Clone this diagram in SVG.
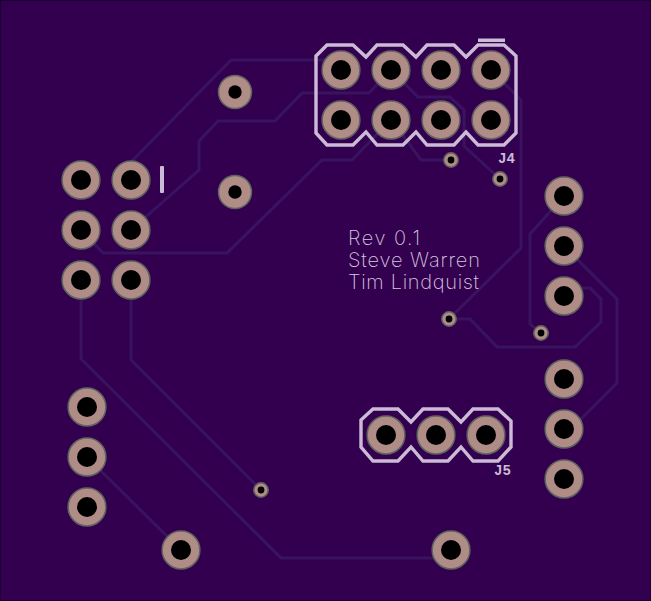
<svg xmlns="http://www.w3.org/2000/svg" width="651" height="601" viewBox="0 0 651 601">
<style>
.t{fill:none;stroke:#3a1360;stroke-width:3;stroke-linejoin:miter}
.s{fill:none;stroke:#cbbbd6;stroke-width:3.4}
.b{fill:#cbbbd6;stroke:none}
.p{fill:#b08c86;stroke:#5f6460;stroke-width:1.5}
.h{fill:#000}
.x{font-family:"Inter",sans-serif;font-weight:200;font-size:20px;fill:#d5c8de}
.r{font-family:"Liberation Mono",monospace;font-size:15px;font-weight:bold;fill:#cbbbd6}
</style>
<defs>
<g id="pad"><circle class="p" r="18.9"/><circle class="h" r="10"/></g>
<g id="mid"><circle class="p" r="16.5"/><circle class="h" r="6.7"/></g>
<g id="via"><circle class="p" r="7.2"/><circle class="h" r="3.4"/></g>
</defs>
<rect width="651" height="601" fill="#1c0030"/>
<rect x="1" y="1" width="649" height="599" fill="#33004f"/>
<g id="connectors">
<path class="t" d="M131 180V162L231 60H341V70"/>
<path class="t" d="M131 230L199 170V141L218 121H275L302 93H369L391 70"/>
<path class="t" d="M81 230L103 253H227L322 160H352L391 120"/>
<path class="t" d="M391 70L418 97H450L464 110V146L500 179"/>
<path class="t" d="M391 120L410 145L421 160H451"/>
<path class="t" d="M491 70L521 100V248L449 319"/>
<path class="t" d="M449 319H470L497 347H575L601 322V299L590 288H565"/>
<path class="t" d="M564 196L530 234V324L541 333"/>
<path class="t" d="M564 246L617 299V383L564 436"/>
<path class="t" d="M81 280V359L281 558H433"/>
<path class="t" d="M131 280V360L261 490"/>
<path class="t" d="M87 457L102 472L181 550"/>
</g>
<g id="J4">
<polygon class="s" points="316,56 327,45 353,45 366,57 377,45 403,45 416,57 427,45 454,45 466,57 478,45 504,45 516,56 516,133 504,145 478,145 466,132 454,145 427,145 416,132 403,145 377,145 366,132 353,145 327,145 316,133"/>
<rect class="b" x="478" y="38.5" width="27" height="3.5"/>
<use href="#pad" x="341" y="70"/><use href="#pad" x="391" y="70"/><use href="#pad" x="441" y="70"/><use href="#pad" x="491" y="70"/>
<use href="#pad" x="341" y="120"/><use href="#pad" x="391" y="120"/><use href="#pad" x="441" y="120"/><use href="#pad" x="491" y="120"/>
<text class="r" x="498" y="163" textLength="17" lengthAdjust="spacingAndGlyphs">J4</text>
</g>
<g id="J5">
<polygon class="s" points="361,420 373,409 398,409 411,422 423,409 448,409 461,422 473,409 498,409 511,421 511,447 498,461 473,461 461,447 448,461 423,461 411,447 398,461 373,461 361,447"/>
<use href="#pad" x="386" y="435"/><use href="#pad" x="436" y="435"/><use href="#pad" x="486" y="435"/>
<text class="r" x="494" y="475" textLength="17" lengthAdjust="spacingAndGlyphs">J5</text>
</g>
<g id="J1">
<rect class="b" x="160" y="166" width="4" height="27" rx="1"/>
<use href="#pad" x="81" y="180"/><use href="#pad" x="131" y="180"/>
<use href="#pad" x="81" y="230"/><use href="#pad" x="131" y="230"/>
<use href="#pad" x="81" y="280"/><use href="#pad" x="131" y="280"/>
</g>
<g id="J2"><use href="#pad" x="564" y="196"/><use href="#pad" x="564" y="246"/><use href="#pad" x="564" y="296"/></g>
<g id="J3"><use href="#pad" x="564" y="379"/><use href="#pad" x="564" y="429"/><use href="#pad" x="564" y="479"/></g>
<g id="J6"><use href="#pad" x="87" y="407"/><use href="#pad" x="87" y="457"/><use href="#pad" x="87" y="507"/></g>
<g id="P1"><use href="#pad" x="181" y="550"/></g>
<g id="P2"><use href="#pad" x="451" y="550"/></g>
<g id="M1"><use href="#mid" x="235" y="92"/></g>
<g id="M2"><use href="#mid" x="235" y="192"/></g>
<g id="V1"><use href="#via" x="451" y="160"/></g>
<g id="V2"><use href="#via" x="500" y="179"/></g>
<g id="V3"><use href="#via" x="449" y="319"/></g>
<g id="V4"><use href="#via" x="541" y="333"/></g>
<g id="V5"><use href="#via" x="261" y="490"/></g>
<g id="label">
<text class="x" x="348" y="245" textLength="72">Rev 0.1</text>
<text class="x" x="348" y="267" textLength="132">Steve Warren</text>
<text class="x" x="348" y="289" textLength="131">Tim Lindquist</text>
</g>
</svg>
